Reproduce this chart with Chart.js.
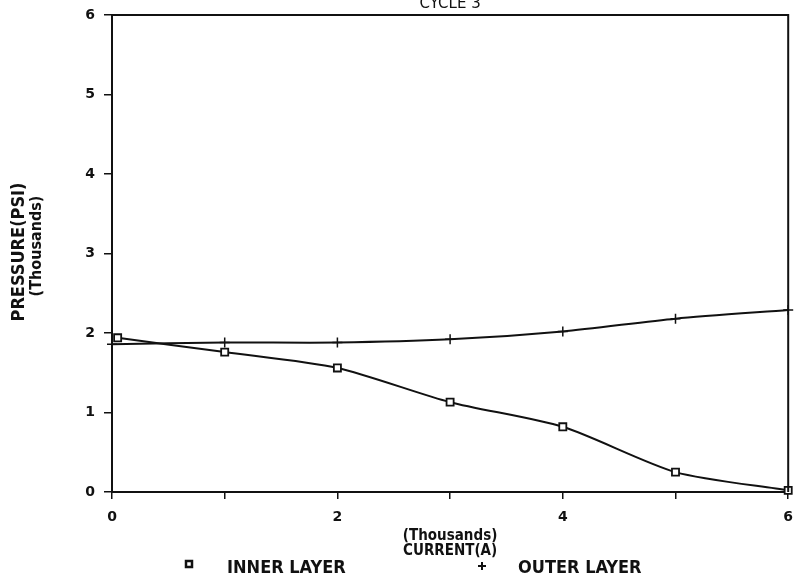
<!DOCTYPE html>
<html>
<head>
<meta charset="utf-8">
<script src="https://cdn.jsdelivr.net/npm/chart.js@4/dist/chart.umd.min.js"></script>
<style>
  html, body { margin: 0; padding: 0; background: #fff; }
  #wrap { position: relative; width: 795px; height: 578px; }
</style>
</head>
<body>
<div id="wrap"><canvas id="pressure-chart" width="795" height="578"></canvas></div>
<script>
// current in thousands of amps
const innerCurrent = [0.05, 1.0, 2.0, 3.0, 4.0, 5.0, 6.0];
const innerPressure = [1.94, 1.76, 1.56, 1.13, 0.82, 0.25, 0.02];
const outerCurrent = [0.0, 1.0, 2.0, 3.0, 4.0, 5.0, 6.0];
const outerPressure = [1.86, 1.88, 1.88, 1.92, 2.02, 2.18, 2.29];

const chartTitle = 'CYCLE 3';
const yTitleLines = ['PRESSURE(PSI)', '(Thousands)'];
const xTitleLines = ['(Thousands)', 'CURRENT(A)'];
const seriesNames = ['INNER LAYER', 'OUTER LAYER'];
const xTickLabels = ['0', '', '2', '', '4', '', '6'];

const ink = '#111';
const tickFont = { family: 'DejaVu Sans', size: 14, weight: 'bold' };

const toPoints = (xs, ys) => xs.map((x, i) => ({ x, y: ys[i] }));

// frame, titles and legend drawn by hand to match the plotter look
const decorPlugin = {
    id: 'decor',
    afterDraw(chart) {
        const { ctx, chartArea: a } = chart;
        const midX = (a.left + a.right) / 2;
        ctx.save();
        ctx.strokeStyle = ink;
        ctx.lineWidth = 2;
        ctx.beginPath();
        ctx.moveTo(a.left, a.top);
        ctx.lineTo(a.right, a.top);
        ctx.lineTo(a.right, a.bottom);
        ctx.stroke();

        ctx.fillStyle = ink;
        ctx.textAlign = 'center';
        ctx.textBaseline = 'alphabetic';
        ctx.font = '15px "DejaVu Sans", sans-serif';
        ctx.fillText(chartTitle, midX, 8);

        ctx.font = 'bold 15px "DejaVu Sans Condensed", "DejaVu Sans", sans-serif';
        ctx.fillText(xTitleLines[0], midX, 540);
        ctx.fillText(xTitleLines[1], midX, 555);

        ctx.save();
        ctx.translate(24, 252);
        ctx.rotate(-Math.PI / 2);
        ctx.font = 'bold 18px "DejaVu Sans Condensed", "DejaVu Sans", sans-serif';
        ctx.fillText(yTitleLines[0], 0, 0);
        ctx.font = 'bold 16px "DejaVu Sans Condensed", "DejaVu Sans", sans-serif';
        ctx.fillText(yTitleLines[1], 6, 17);
        ctx.restore();

        // legend
        ctx.textAlign = 'left';
        ctx.font = 'bold 18px "Liberation Sans Narrow", "DejaVu Sans Condensed", sans-serif';
        ctx.lineWidth = 2.5;
        ctx.strokeRect(186, 561, 6, 6);
        ctx.fillText(seriesNames[0], 227, 573);
        ctx.lineWidth = 2;
        ctx.beginPath();
        ctx.moveTo(478, 566); ctx.lineTo(486, 566);
        ctx.moveTo(482, 562); ctx.lineTo(482, 570);
        ctx.stroke();
        ctx.fillText(seriesNames[1], 518, 573);
        ctx.restore();
    }
};

new Chart(document.getElementById('pressure-chart'), {
    type: 'line',
    data: {
        datasets: [
            {
                label: seriesNames[0],
                data: toPoints(innerCurrent, innerPressure),
                borderColor: ink,
                backgroundColor: '#fff',
                borderWidth: 2,
                pointStyle: 'rect',
                pointRadius: 5,
                pointBorderWidth: 1.8,
                tension: 0.25,
                clip: false
            },
            {
                label: seriesNames[1],
                data: toPoints(outerCurrent, outerPressure),
                borderColor: ink,
                backgroundColor: ink,
                borderWidth: 2,
                pointStyle: 'cross',
                pointRadius: 5,
                pointBorderWidth: 1.5,
                tension: 0.25,
                clip: false
            }
        ]
    },
    options: {
        responsive: false,
        animation: false,
        layout: { padding: { left: 0, top: 15, right: 5, bottom: 0 } },
        plugins: {
            legend: { display: false },
            title: { display: false },
            tooltip: { enabled: false }
        },
        scales: {
            x: {
                type: 'linear',
                min: 0,
                max: 6,
                afterFit: s => { s.height = 86; s.paddingLeft = 0; s.paddingRight = 0; },
                ticks: {
                    stepSize: 1,
                    color: ink,
                    font: tickFont,
                    maxRotation: 0,
                    autoSkip: false,
                    padding: 10,
                    callback: (v, i) => xTickLabels[i]
                },
                grid: { drawOnChartArea: false, color: ink, tickLength: 7, lineWidth: 1.5 },
                border: { color: ink, width: 2 }
            },
            y: {
                min: 0,
                max: 6,
                afterFit: s => { s.width = 112; s.paddingTop = 0; s.paddingBottom = 0; },
                ticks: {
                    stepSize: 1,
                    color: ink,
                    font: tickFont,
                    padding: 9
                },
                grid: { drawOnChartArea: false, color: ink, tickLength: 8, lineWidth: 1.5 },
                border: { color: ink, width: 2 }
            }
        }
    },
    plugins: [decorPlugin]
});
</script>
</body>
</html>
